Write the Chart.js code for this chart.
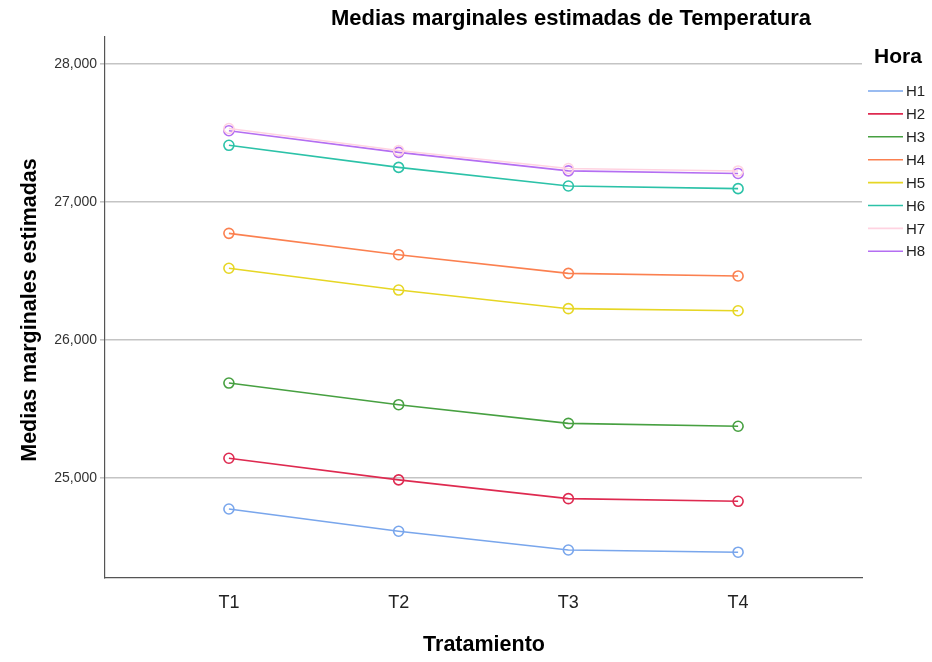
<!DOCTYPE html>
<html>
<head>
<meta charset="utf-8">
<script src="https://cdn.jsdelivr.net/npm/chart.js@4.4.1/dist/chart.umd.min.js"></script>
<style>
html,body{margin:0;padding:0;background:#fff;}
#wrap{width:932px;height:662px;position:relative;}
</style>
</head>
<body>
<div id="wrap"><canvas id="c" width="932" height="662"></canvas></div>
<script>
const categories = ["T1", "T2", "T3", "T4"];
const seriesNames = ["H1", "H2", "H3", "H4", "H5", "H6", "H7", "H8"];
const H1 = [24775, 24614, 24478, 24462];
const H2 = [25143, 24986, 24850, 24831];
const H3 = [25688, 25531, 25396, 25375];
const H4 = [26773, 26618, 26483, 26464];
const H5 = [26520, 26362, 26227, 26212];
const H6 = [27411, 27251, 27116, 27097];
const H7 = [27533, 27373, 27243, 27225];
const H8 = [27517, 27360, 27226, 27207];
const yTicks = [25000, 26000, 27000, 28000];
const seriesValues = [H1, H2, H3, H4, H5, H6, H7, H8];
const colors = ["#79a6ec", "#de2a50", "#47a041", "#fb8050", "#e6d624", "#2cc2a8", "#ffd3e1", "#b46ef2"];

const FONT = "'Liberation Sans', Arial, sans-serif";

const datasets = seriesNames.map((n, i) => ({
  label: n,
  data: seriesValues[i].map((v, j) => ({x: j, y: v})),
  borderColor: colors[i],
  backgroundColor: 'rgba(255,255,255,0)',
  borderWidth: 1.6,
  pointRadius: 5,
  pointBorderWidth: 1.6,
  pointBackgroundColor: 'rgba(255,255,255,0)',
  pointBorderColor: colors[i],
  tension: 0
}));

const textPlugin = {
  id: 'texts',
  afterDraw(chart) {
    const ctx = chart.ctx;
    ctx.save();
    ctx.fillStyle = '#000';
    ctx.textBaseline = 'middle';
    ctx.textAlign = 'center';
    ctx.font = "bold 22px " + FONT;
    ctx.fillText("Medias marginales estimadas de Temperatura", 571, 19);
    ctx.font = "bold 21.5px " + FONT;
    ctx.fillText("Tratamiento", 484, 645);
    ctx.save();
    ctx.translate(30, 310);
    ctx.rotate(-Math.PI / 2);
    ctx.fillText("Medias marginales estimadas", 0, 0);
    ctx.restore();
    // legend
    ctx.textAlign = 'left';
    ctx.font = "bold 21px " + FONT;
    ctx.fillText("Hora", 874, 57);
    ctx.font = "15px " + FONT;
    seriesNames.forEach((n, i) => {
      const y = 91 + i * 22.9;
      ctx.strokeStyle = colors[i];
      ctx.lineWidth = 1.6;
      ctx.beginPath();
      ctx.moveTo(868, y);
      ctx.lineTo(903, y);
      ctx.stroke();
      ctx.fillStyle = '#222';
      ctx.fillText(n, 906, y + 1);
    });
    ctx.restore();
  }
};

new Chart(document.getElementById('c'), {
  type: 'line',
  data: { datasets },
  options: {
    responsive: false,
    animation: false,
    layout: { padding: { left: 0, right: 70, top: 37, bottom: 0 } },
    plugins: { legend: { display: false }, title: { display: false }, tooltip: { enabled: false } },
    scales: {
      x: {
        type: 'linear',
        min: -0.73,
        max: 3.73,
        afterBuildTicks(scale) { scale.ticks = categories.map((c, i) => ({ value: i })); },
        afterFit(scale) { scale.height = 84; },
        ticks: {
          callback: (v) => categories[v],
          font: { family: FONT, size: 18 },
          color: '#222',
          padding: 14,
          maxRotation: 0
        },
        grid: { drawOnChartArea: false, drawTicks: false, color: 'rgba(0,0,0,0)' },
        border: { display: true, color: '#555', width: 1.2 }
      },
      y: {
        type: 'linear',
        min: 24275,
        max: 28196,
        afterBuildTicks(scale) { scale.ticks = yTicks.map(v => ({ value: v })); },
        afterFit(scale) { scale.width = 105; },
        ticks: {
          callback: (v) => v.toLocaleString('en-US'),
          font: { family: FONT, size: 14 },
          color: '#333',
          padding: 3
        },
        grid: { color: '#c4c4c4', lineWidth: 1.6, tickLength: 5, drawTicks: true },
        border: { display: true, color: '#555', width: 1.2 }
      }
    }
  },
  plugins: [textPlugin]
});
</script>
</body>
</html>
